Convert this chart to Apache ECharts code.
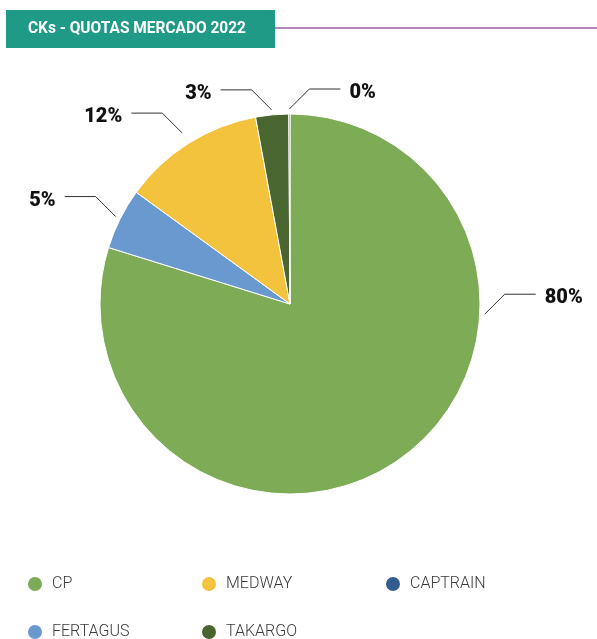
<!DOCTYPE html>
<html><head><meta charset="utf-8">
<script src="https://cdn.jsdelivr.net/npm/echarts@6/dist/echarts.min.js"></script>
<style>html,body{margin:0;padding:0;background:#fff}#c{width:597px;height:639px}</style>
</head><body><div id="c"></div>
<script>
var titleText = 'CKs - QUOTAS MERCADO 2022';
var categories = ['CP', 'FERTAGUS', 'MEDWAY', 'TAKARGO', 'CAPTRAIN'];
var values = [79.8, 5.2, 12.1, 2.8, 0.1];
var colors = ['#7eab55', '#6a99d0', '#f3c33e', '#4a6630', '#355c8f'];
// legend grid: column, row for each category
var legendCell = { CP: [0, 0], FERTAGUS: [0, 1], MEDWAY: [1, 0], TAKARGO: [1, 1], CAPTRAIN: [2, 0] };

var center = [290, 304], radius = 190;
var colX = [26, 200, 384], rowY = [575, 623];
var chart = echarts.init(document.getElementById('c'));
var legends = categories.map(function (c) {
  var cell = legendCell[c];
  return {
    data: [c], orient: 'vertical', left: colX[cell[0]], top: rowY[cell[1]], padding: 0,
    icon: 'circle', itemWidth: 16, itemHeight: 16,
    textStyle: { fontFamily: 'Roboto', fontWeight: 300, fontSize: 16, color: '#3a3a3a', padding: [0, 0, 0, 4] }
  };
});
chart.setOption({
  animation: false,
  color: colors,
  legend: legends,
  graphic: [
    { type: 'rect', shape: { x: 6, y: 10, width: 269, height: 38 }, style: { fill: '#1e9a86' } },
    { type: 'line', shape: { x1: 275, y1: 28, x2: 597, y2: 28 }, style: { stroke: '#9b5fa3', lineWidth: 1.5 } },
    { type: 'text', x: 28, y: 29, scaleX: 0.91, style: { text: titleText, fill: '#fff', font: 'bold 17px Roboto', textVerticalAlign: 'middle' } }
  ],
  series: [{
    type: 'pie', center: center, radius: radius, clockwise: true, startAngle: 90,
    percentPrecision: 0,
    avoidLabelOverlap: false,
    itemStyle: { borderColor: '#fff', borderWidth: 1 },
    label: { formatter: '{d}%', fontFamily: 'Roboto', fontWeight: 900, fontSize: 20, color: '#111' },
    labelLine: { length: 20, length2: 30, lineStyle: { color: '#333', width: 1 } },
    labelLayout: function (p) {
      var pts = p.labelLinePoints;
      if (!pts) return {};
      var cx = center[0], cy = center[1];
      var dx, dy;
      if (p.dataIndex === 0) {
        var ang = 93 * Math.PI / 180;
        dx = Math.sin(ang); dy = -Math.cos(ang);
      } else {
        var ex0 = pts[0][0] - cx, ey0 = pts[0][1] - cy;
        var len = Math.sqrt(ex0 * ex0 + ey0 * ey0);
        dx = ex0 / len; dy = ey0 / len;
      }
      var side = (dx * radius > -2) ? 1 : -1;
      var off = dy < -0.8 && dx < -0.3 ? 12 : 5;
      var sx = cx + (radius + off) * dx, sy = cy + (radius + off) * dy;
      var mx = sx + side * 20, my = sy - 20;
      var ex = mx + side * 31;
      return { x: ex + side * 9, y: my + 4, align: side > 0 ? 'left' : 'right', verticalAlign: 'middle',
        labelLinePoints: [[sx, sy], [mx, my], [ex, my]] };
    },
    data: categories.map(function (c, i) { return { name: c, value: values[i] }; })
  }]
});
</script></body></html>
